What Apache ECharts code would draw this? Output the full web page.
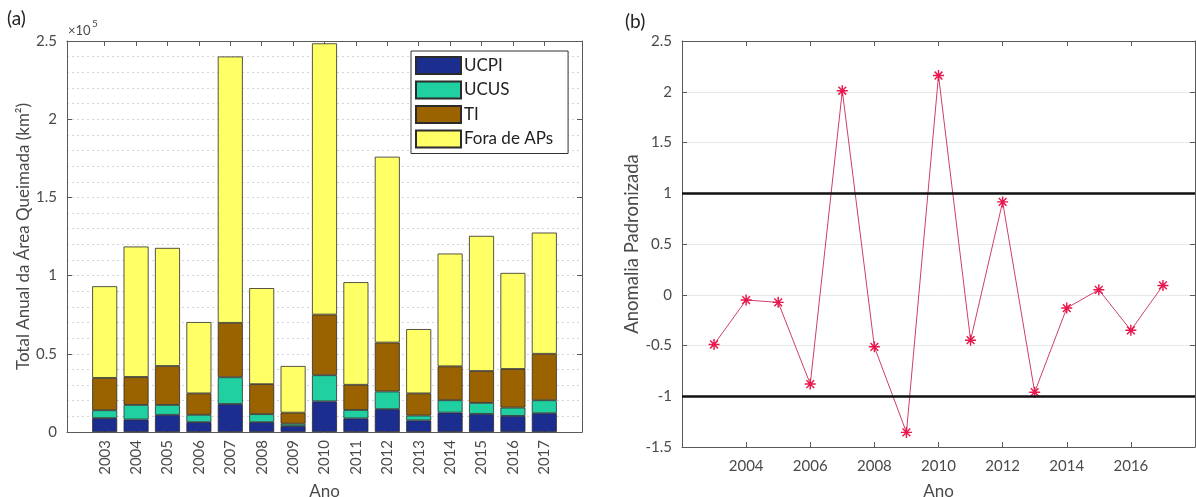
<!DOCTYPE html>
<html>
<head>
<meta charset="utf-8">
<script src="https://cdn.jsdelivr.net/npm/echarts@6/dist/echarts.min.js"></script>
<style>html,body{margin:0;padding:0;background:#fff}#c{width:1196px;height:497px}</style>
</head>
<body>
<div id="c"></div>
<script>
// ---- data ----
const years = [2003,2004,2005,2006,2007,2008,2009,2010,2011,2012,2013,2014,2015,2016,2017];
const ucpi  = [8900,8000,11000,6300,17900,6300,3800,19600,8700,14600,7400,12400,11600,10300,12000];
const ucus  = [5000,9300,6300,4700,17100,5100,1500,16700,5400,11300,3100,7900,7000,5300,8300];
const ti    = [20700,17900,24900,13700,34800,19200,7100,38800,16100,31300,14200,21700,20400,24700,29700];
const fora  = [58600,83400,75500,45600,170300,61400,29800,173400,65600,118800,41100,72100,86400,61400,77500];
const anomaly = [-0.49,-0.052,-0.075,-0.88,2.01,-0.513,-1.356,2.16,-0.448,0.915,-0.96,-0.131,0.049,-0.35,0.092];
const thresholds = [1,-1];

const FONT = 'Lato';
const TXT = '#4a4a4a';
const AX = '#5a5a5a';
const asterisk = 'path://M-1.3,-10L1.3,-10L1.3,10L-1.3,10Z M-10,-1.3L10,-1.3L10,1.3L-10,1.3Z M-6.15,-7.99L7.99,6.15L6.15,7.99L-7.99,-6.15Z M-7.99,6.15L6.15,-7.99L7.99,-6.15L-6.15,7.99Z';

// left frame: x range 2001.8..2018.2 over 515px; bar grid covers 2002.5..2017.5
const L0 = 67, W0 = 515, XMIN = 2001.8, XMAX = 2018.2;
const pxPerYear = W0 / (XMAX - XMIN);
const barLeft = L0 + (years[0] - 0.5 - XMIN) * pxPerYear;
const barWidthPx = years.length * pxPerYear;

function barSeries(name, arr, color){
  return {
    name, type:'bar', stack:'tot', xAxisIndex:4, yAxisIndex:4,
    data: arr, barWidth:25,
    itemStyle:{color, borderColor:'#2b2b2b', borderWidth:0.8},
    emphasis:{disabled:true}
  };
}

const chart = echarts.init(document.getElementById('c'), null, {renderer:'canvas'});
const tickIn = {show:true, inside:true, length:5, lineStyle:{color:AX}};
const line = {show:true, onZero:false, lineStyle:{color:AX, width:1}};
const yr = v => String(Math.round(v));
chart.setOption({
  animation:false,
  textStyle:{fontFamily:FONT},
  grid:[
    {left:L0, top:41, width:W0, height:391, containLabel:false, outerBoundsMode:'none'},
    {left:682, top:41, width:513, height:406, containLabel:false, outerBoundsMode:'none'},
    {left:barLeft, top:41, width:barWidthPx, height:391, containLabel:false, outerBoundsMode:'none'}
  ],
  legend:{
    data:['UCPI','UCUS','TI','Fora de APs'],
    orient:'vertical', left:411, top:51,
    itemWidth:45, itemHeight:17, itemGap:5.5,
    padding:[5,15,5,4],
    borderColor:'#333', borderWidth:1, backgroundColor:'#fff',
    textStyle:{fontFamily:FONT, fontSize:17, color:'#222', padding:[0,0,0,-2]},
    icon:'rect'
  },
  xAxis:[
    {type:'value', gridIndex:0, min:XMIN, max:XMAX, position:'bottom',
     axisLine:line,
     axisTick:Object.assign({customValues:years}, tickIn),
     axisLabel:{customValues:years, formatter:yr, rotate:90, margin:8, color:TXT, fontSize:15, fontFamily:FONT},
     splitLine:{show:false},
     name:'Ano', nameLocation:'middle', nameGap:50, nameTextStyle:{fontSize:17, color:TXT, fontFamily:FONT}},
    {type:'value', gridIndex:0, min:XMIN, max:XMAX, position:'top',
     axisLine:line,
     axisTick:Object.assign({customValues:years}, tickIn),
     axisLabel:{show:false}, splitLine:{show:false}},
    {type:'value', gridIndex:1, min:2002, max:2018, interval:2, position:'bottom',
     axisLine:line,
     axisTick:tickIn,
     axisLabel:{formatter:yr, showMinLabel:false, showMaxLabel:false, margin:12, color:TXT, fontSize:15, fontFamily:FONT},
     splitLine:{show:false},
     name:'Ano', nameLocation:'middle', nameGap:36, nameTextStyle:{fontSize:17, color:TXT, fontFamily:FONT}},
    {type:'value', gridIndex:1, min:2002, max:2018, interval:2, position:'top',
     axisLine:line,
     axisTick:tickIn, axisLabel:{show:false}, splitLine:{show:false}},
    {type:'category', gridIndex:2, data:years, show:false}
  ],
  yAxis:[
    {type:'value', gridIndex:0, min:0, max:250000, interval:50000, position:'left',
     axisLine:line,
     axisTick:tickIn,
     axisLabel:{formatter:v=>String(+(v/1e5).toFixed(1)), margin:10, color:TXT, fontSize:15, fontFamily:FONT},
     splitLine:{show:true, lineStyle:{type:[2,3], color:'#d4d4d4'}},
     minorTick:{show:false, splitNumber:5},
     minorSplitLine:{show:true, lineStyle:{type:[2,3], color:'#d4d4d4'}},
     name:'Total Anual da Área Queimada (km²)', nameLocation:'middle', nameGap:35,
     nameTextStyle:{fontSize:17, color:TXT, fontFamily:FONT}},
    {type:'value', gridIndex:0, min:0, max:250000, interval:50000, position:'right',
     axisLine:line, axisTick:tickIn, axisLabel:{show:false}, splitLine:{show:false}},
    {type:'value', gridIndex:1, min:-1.5, max:2.5, interval:0.5, position:'left',
     axisLine:line, axisTick:tickIn,
     axisLabel:{margin:10, color:TXT, fontSize:15, fontFamily:FONT},
     splitLine:{show:true, lineStyle:{color:'#e8e8e8'}},
     name:'Anomalia Padronizada', nameLocation:'middle', nameGap:40,
     nameTextStyle:{fontSize:18.5, color:TXT, fontFamily:FONT}},
    {type:'value', gridIndex:1, min:-1.5, max:2.5, interval:0.5, position:'right',
     axisLine:line, axisTick:tickIn, axisLabel:{show:false}, splitLine:{show:false}},
    {type:'value', gridIndex:2, min:0, max:250000, show:false, splitLine:{show:false}}
  ],
  series:[
    barSeries('UCPI', ucpi, '#1b2d8e'),
    barSeries('UCUS', ucus, '#20d0a0'),
    barSeries('TI', ti, '#9a6300'),
    barSeries('Fora de APs', fora, '#ffff66'),
    {name:'Anomalia', type:'line', xAxisIndex:2, yAxisIndex:2,
     data: anomaly.map((v,i)=>[years[i], v]),
     lineStyle:{color:'#cf3f66', width:1},
     symbol:asterisk, symbolSize:11,
     itemStyle:{color:'#e8174c'},
     emphasis:{disabled:true},
     markLine:{silent:true, symbol:['none','none'], label:{show:false},
       lineStyle:{color:'#111', width:2.5, type:'solid'},
       data: thresholds.map(t=>({yAxis:t}))}
    }
  ],
  graphic:[
    {type:'text', left:7, top:9, style:{text:'(a)', font:'19px '+FONT, fill:'#222'}},
    {type:'text', left:625, top:12, style:{text:'(b)', font:'19px '+FONT, fill:'#222'}},
    {type:'text', left:68, top:24, style:{text:'×10', font:'13px '+FONT, fill:TXT}},
    {type:'text', left:92, top:19, style:{text:'5', font:'10px '+FONT, fill:TXT}}
  ]
});
</script>
</body>
</html>
